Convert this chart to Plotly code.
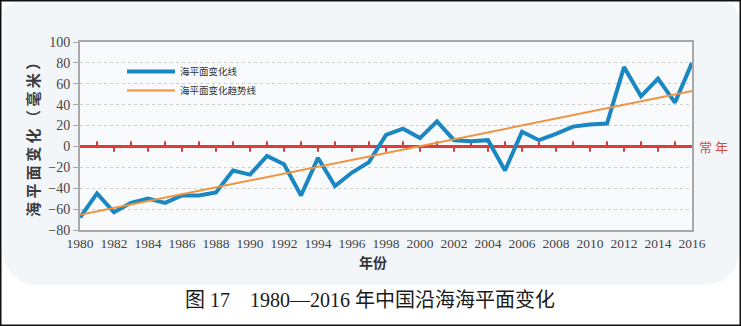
import plotly.graph_objects as go

years = list(range(1980, 2017))
sea_level = [-68, -45, -63, -54, -50, -54, -47, -47, -44, -23, -27, -9, -17, -47, -11,
             -38, -25, -15, 11, 17, 8, 24, 6, 5, 6, -23, 14, 6, 12, 19, 21, 22, 76,
             48, 65, 42, 80]
trend_years = [1980, 2016]
trend_values = [-65.5, 53]
x_tick_labels = [str(y) for y in range(1980, 2017, 2)]
y_ticks = [-80, -60, -40, -20, 0, 20, 40, 60, 80, 100]

W, H = 741, 326
L, R, T, B = 80, 49, 42, 96
PW, PH = W - L - R, H - T - B


def px(x):
    return (x - L) / PW


def py(y):
    return (H - B - y) / PH


fig = go.Figure()

# red baseline tick marks (alternating up / down)
tx, ty = [], []
for yr in years[1:-1]:
    tx += [yr, yr, None]
    ty += [0, 5 if yr % 2 else -5, None]
fig.add_trace(go.Scatter(x=[1980, 2016], y=[0, 0], mode="lines",
                         line=dict(color="#e03b3b", width=3), showlegend=False, hoverinfo="skip"))
fig.add_trace(go.Scatter(x=tx, y=ty, mode="lines",
                         line=dict(color="#e03b3b", width=2), showlegend=False, hoverinfo="skip"))

fig.add_trace(go.Scatter(x=years, y=sea_level, mode="lines", name="海平面变化线",
                         line=dict(color="#1a87c2", width=4)))
fig.add_trace(go.Scatter(x=trend_years, y=trend_values, mode="lines", name="海平面变化趋势线",
                         line=dict(color="#ee9440", width=2)))


def rounded_rect(x0, y0, x1, y1, rt, rb):
    def P(x, y):
        return f"{px(x):.5f},{py(y):.5f}"
    return (f"M {P(x0 + rt, y0)} L {P(x1 - rt, y0)} Q {P(x1, y0)} {P(x1, y0 + rt)} "
            f"L {P(x1, y1 - rb)} Q {P(x1, y1)} {P(x1 - rb, y1)} "
            f"L {P(x0 + rb, y1)} Q {P(x0, y1)} {P(x0, y1 - rb)} "
            f"L {P(x0, y0 + rt)} Q {P(x0, y0)} {P(x0 + rt, y0)} Z")


shapes = [
    dict(type="path", xref="paper", yref="paper", path=rounded_rect(3, 2, 739, 285, 18, 38),
         fillcolor="#f2f6f9", line=dict(width=0), layer="below"),
    dict(type="rect", xref="paper", yref="paper", x0=0, y0=0, x1=1, y1=1,
         fillcolor="#f8fafb", line=dict(width=0), layer="below"),
    dict(type="rect", xref="paper", yref="paper", x0=px(0.5), y0=py(325.5), x1=px(740.5), y1=py(0.5),
         fillcolor="rgba(0,0,0,0)", line=dict(color="#111111", width=2), layer="above"),
]

cjk = "Noto Sans CJK SC"
serif = "Liberation Serif, Times New Roman, serif"
annotations = [
    dict(text="<b>海 平 面 变 化 （ 毫 米 ）</b>", xref="paper", yref="paper", x=px(32), y=py(136),
         textangle=-90, showarrow=False, font=dict(family=cjk, size=15, color="#3a3a3a"),
         xanchor="center", yanchor="middle"),
    dict(text="<b>年份</b>", xref="paper", yref="paper", x=px(373), y=py(262), showarrow=False,
         font=dict(family=cjk, size=14, color="#333333"), xanchor="center", yanchor="middle"),
    dict(text="常 年", xref="paper", yref="paper", x=px(697), y=py(146.5), showarrow=False,
         font=dict(family=cjk, size=13, color="#d24a3c"), xanchor="left", yanchor="middle"),
    dict(text="图 17　1980—2016 年中国沿海海平面变化", xref="paper", yref="paper", x=px(370),
         y=py(300), showarrow=False, font=dict(family="Liberation Serif, " + cjk, size=20,
                                               color="#1a1a1a"),
         xanchor="center", yanchor="middle"),
]

fig.update_layout(
    width=W, height=H,
    margin=dict(l=L, r=R, t=T, b=B),
    paper_bgcolor="white",
    plot_bgcolor="rgba(0,0,0,0)",
    shapes=shapes,
    annotations=annotations,
    showlegend=True,
    legend=dict(x=px(122), y=py(57), xanchor="left", yanchor="top", bgcolor="rgba(0,0,0,0)",
                font=dict(family=cjk, size=9.5, color="#333333"), tracegroupgap=0, itemwidth=48),
    xaxis=dict(range=[1980, 2016], tickmode="array", tickvals=list(range(1980, 2017, 2)),
               ticktext=x_tick_labels, showgrid=False, zeroline=False, showline=True,
               linecolor="#a8a8a8", linewidth=2, mirror=True, ticks="",
               tickfont=dict(family=serif, size=13.5, color="#444444")),
    yaxis=dict(range=[-80, 100], tickmode="array", tickvals=y_ticks, showgrid=True,
               gridcolor="#cfcfcf", griddash="dot", gridwidth=1, zeroline=False, showline=True,
               linecolor="#a8a8a8", linewidth=2, mirror=True, ticks="outside", ticklen=5,
               tickcolor="#a8a8a8", tickwidth=1,
               tickfont=dict(family=serif, size=14, color="#444444")),
)

fig.write_html("out.html")
